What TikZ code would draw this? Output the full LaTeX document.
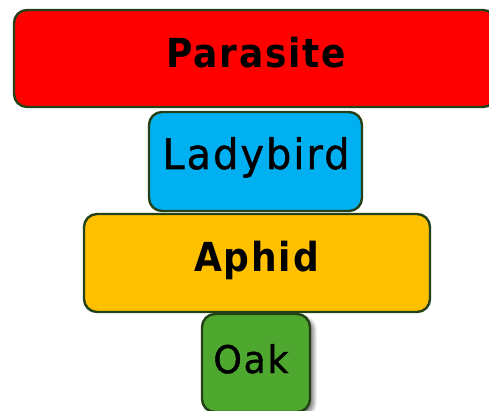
\documentclass[tikz,border=0pt]{standalone}
\usepackage{fontspec}
\usepackage{graphicx}
\setmainfont{DejaVu Sans}
\newfontfamily\spacedfont[LetterSpace=5]{DejaVu Sans}
\newfontfamily\spacedreg[LetterSpace=5,FakeBold=1.2]{DejaVu Sans}
\usetikzlibrary{shadows,shadows.blur}
\definecolor{edge}{HTML}{254117}
\definecolor{cRed}{HTML}{FF0000}
\definecolor{cCyan}{HTML}{00B0F0}
\definecolor{cGold}{HTML}{FFC000}
\definecolor{cGreen}{HTML}{4EA72E}
\tikzset{
  tier/.style={draw=edge, line width=2.4pt, rounded corners=13pt, rectangle, inner sep=0pt},
  lbl/.style={anchor=base, inner sep=0pt, text=black},
}
\begin{document}
\begin{tikzpicture}[x=1pt,y=-1pt]
\useasboundingbox (0,0) rectangle (489,411);
\node[tier, fill=cRed, minimum width=482pt, minimum height=97pt] (parasite) at (255,58.5) {};
\node[lbl] (parasiteT) at (256.5,68) {\scalebox{0.9}[1]{\fontsize{40}{42}\spacedfont\bfseries Parasite}};
\node[tier, fill=cCyan, minimum width=213pt, minimum height=99pt] (ladybird) at (255.5,161.5) {};
\node[lbl] (ladybirdT) at (256,169) {\scalebox{0.95}[1]{\fontsize{42}{44}\spacedreg Ladybird}};
\node[tier, fill=cGold, minimum width=346pt, minimum height=98pt] (aphid) at (257,263) {};
\node[lbl] (aphidT) at (256.5,272) {\scalebox{0.9}[1]{\fontsize{40}{42}\spacedfont\bfseries Aphid}};
\node[tier, fill=cGreen, minimum width=108pt, minimum height=98pt,
      blur shadow={shadow xshift=3.5pt, shadow yshift=-3.5pt, shadow blur steps=8, shadow blur radius=4pt, shadow opacity=55}] (oak) at (256,363) {};
\node[lbl] (oakT) at (251,373) {\scalebox{0.95}[1]{\fontsize{38}{40}\spacedreg Oak}};
\end{tikzpicture}
\end{document}
